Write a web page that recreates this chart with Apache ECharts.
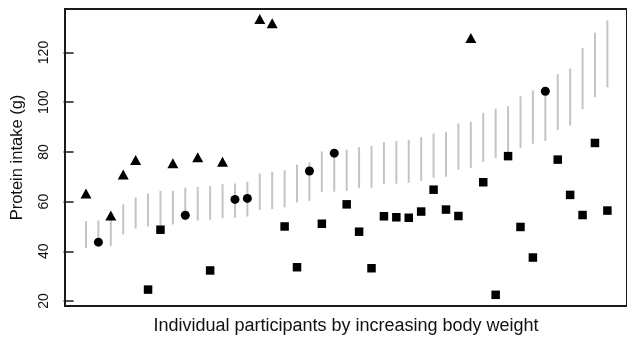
<!DOCTYPE html>
<html>
<head>
<meta charset="utf-8">
<script src="https://cdn.jsdelivr.net/npm/echarts@6/dist/echarts.min.js"></script>
<style>html,body{margin:0;padding:0;background:#fff}#c{width:627px;height:340px}</style>
</head>
<body>
<div id="c"></div>
<script>
// Participants ordered by increasing body weight (1..43)
const participants = Array.from({length: 43}, (_, k) => k + 1);
// Plausible-intake range (gray bars), g
const rangeLow  = [41.3,43.5,42.2,46.8,49.1,50.0,50.6,50.8,52.4,52.4,52.7,53.3,53.5,54.0,56.6,57.0,57.7,59.7,60.3,63.9,64.0,64.3,65.4,65.6,67.0,67.2,67.6,68.3,69.6,70.0,72.9,73.6,76.0,77.5,79.5,81.5,83.3,84.4,88.8,90.6,97.2,102.0,106.0];
const rangeHigh = [52.2,52.4,54.8,58.9,61.7,63.3,64.3,64.3,65.6,65.9,66.3,67.0,67.3,68.0,71.3,72.0,72.6,74.9,75.8,80.2,80.5,80.9,81.9,82.4,83.9,84.4,84.8,85.9,87.4,88.1,91.4,92.1,95.7,97.4,98.4,102.4,104.7,106.0,111.3,113.5,121.8,128.0,132.9];
// Reported protein intake, g
const intake = [63.3,43.7,54.4,70.9,76.7,24.6,48.7,75.4,54.5,77.9,32.3,76.0,60.9,61.3,133.5,131.8,50.0,33.6,72.3,51.1,79.5,58.9,47.9,33.2,54.1,53.7,53.5,56.0,64.8,56.8,54.2,125.8,67.8,22.5,78.3,49.8,37.5,104.4,76.9,62.7,54.6,83.6,56.4];
// Classification: O = above range, P = within range, U = below range
const group = ['O','P','O','O','O','U','U','O','P','O','U','O','P','P','O','O','U','U','P','U','P','U','U','U','U','U','U','U','U','U','U','O','U','U','U','U','U','P','U','U','U','U','U'];
const yTicks = [20, 40, 60, 80, 100, 120];

const pick = g => participants.map((p, k) => group[k] === g ? [p, intake[k]] : null).filter(Boolean);
const rangeData = participants.map((p, k) => [p, rangeLow[k], rangeHigh[k]]);

const font = 'Liberation Sans, Arial, sans-serif';
const chart = echarts.init(document.getElementById('c'), null, {renderer: 'canvas'});
chart.setOption({
  animation: false,
  backgroundColor: '#fff',
  grid: {left: 65, right: -2, top: 9, bottom: 30, show: true, borderColor: '#1a1a1a', borderWidth: 2, backgroundColor: 'transparent'},
  xAxis: {
    type: 'value', min: -0.69, max: 44.58,
    axisLine: {show: false}, axisTick: {show: false}, axisLabel: {show: false}, splitLine: {show: false},
    name: 'Individual participants by increasing body weight',
    nameLocation: 'middle', nameGap: 11,
    nameTextStyle: {fontFamily: font, fontSize: 18, color: '#111', verticalAlign: 'top'}
  },
  yAxis: {
    type: 'value', min: 18, max: 137.5,
    axisLine: {show: false},
    axisTick: {show: true, length: 10, customValues: yTicks, lineStyle: {color: '#1a1a1a', width: 1.5}},
    axisLabel: {show: true, customValues: yTicks, rotate: 90, margin: 14, fontFamily: font, fontSize: 14, color: '#111'},
    splitLine: {show: false},
    name: 'Protein intake (g)', nameLocation: 'middle', nameRotate: 90, nameGap: 39,
    nameTextStyle: {fontFamily: font, fontSize: 16.5, color: '#111'}
  },
  series: [
    {
      type: 'custom',
      data: rangeData,
      encode: {x: 0, y: [1, 2]},
      renderItem: function (params, api) {
        const a = api.coord([api.value(0), api.value(1)]);
        const b = api.coord([api.value(0), api.value(2)]);
        return {type: 'line', shape: {x1: a[0], y1: a[1], x2: b[0], y2: b[1]}, style: {stroke: '#c4c4c4', lineWidth: 2}};
      },
      z: 1
    },
    {type: 'scatter', data: pick('O'), symbol: 'triangle', symbolSize: [11, 10], itemStyle: {color: '#000', opacity: 1}, z: 3},
    {type: 'scatter', data: pick('P'), symbol: 'circle', symbolSize: 9, itemStyle: {color: '#000', opacity: 1}, z: 3},
    {type: 'scatter', data: pick('U'), symbol: 'rect', symbolSize: 8.5, itemStyle: {color: '#000', opacity: 1}, z: 3}
  ]
});
</script>
</body>
</html>
